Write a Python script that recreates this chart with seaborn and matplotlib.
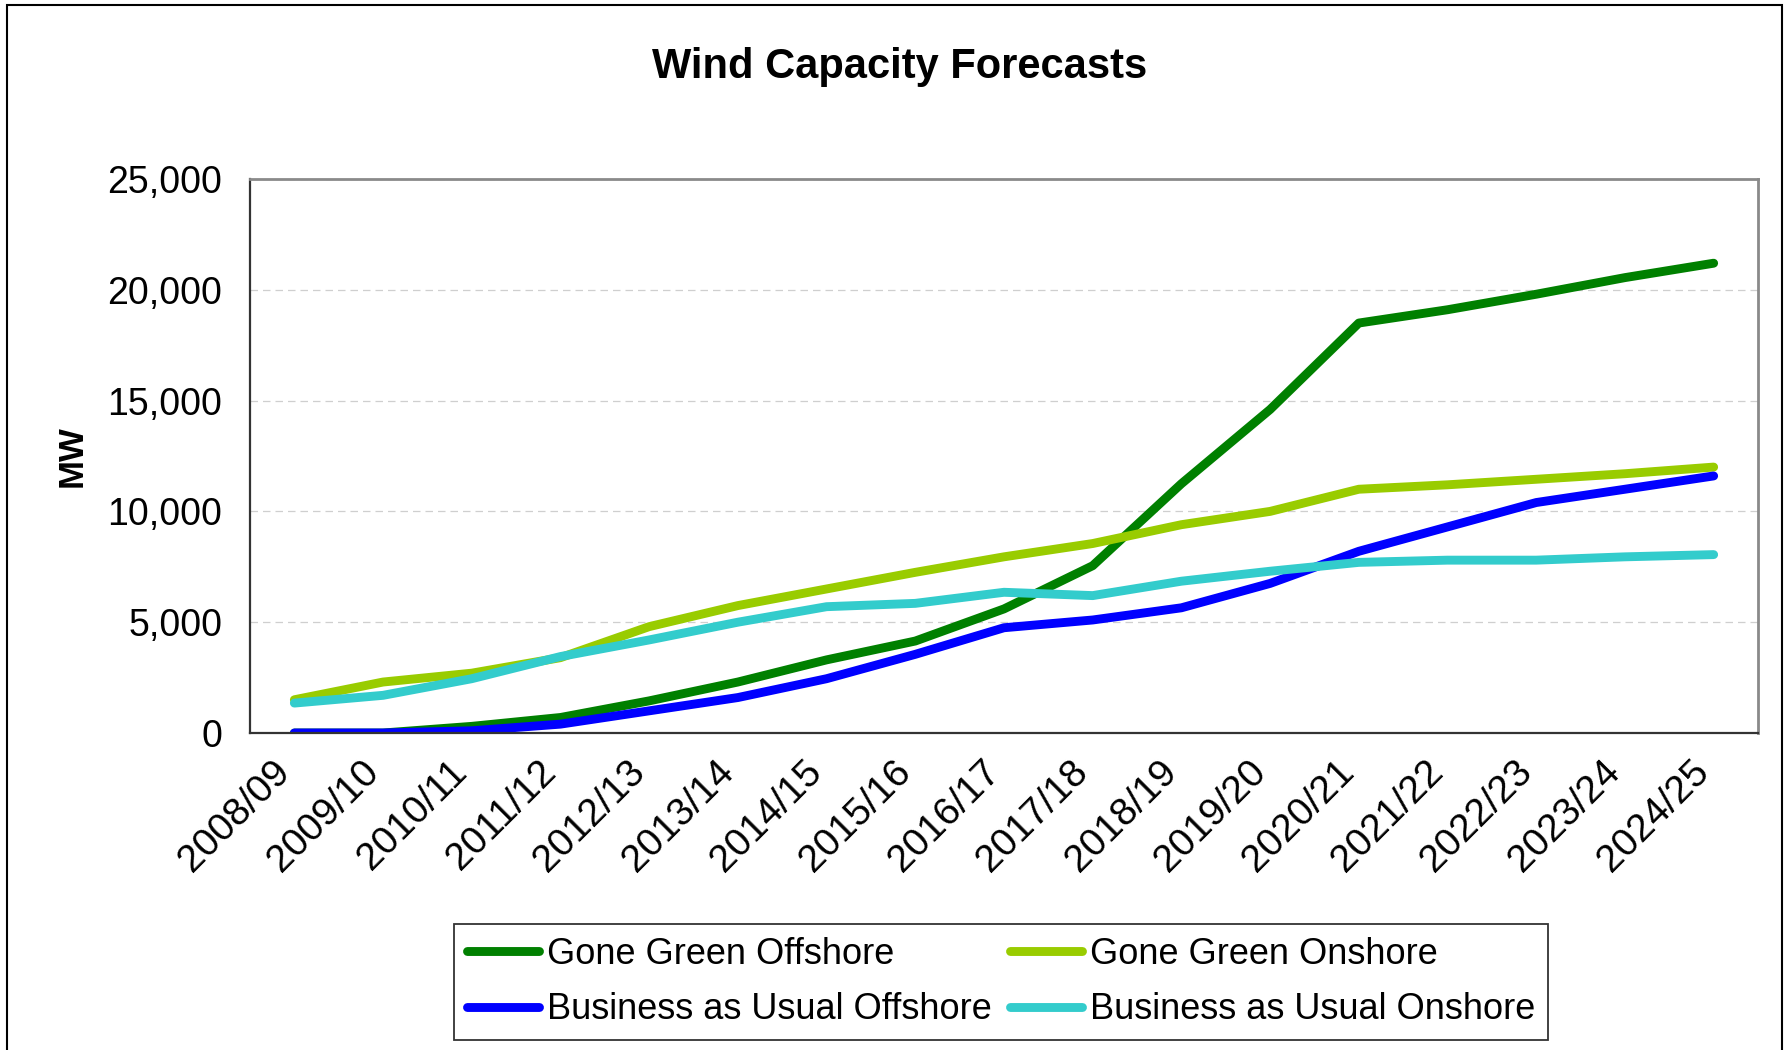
import matplotlib
matplotlib.use("Agg")
import matplotlib.pyplot as plt
import matplotlib.transforms as mtransforms
from matplotlib.patches import Rectangle
from matplotlib.ticker import FuncFormatter, FixedLocator
import seaborn as sns
import pandas as pd

# Financial years on the category axis
years = ["2008/09", "2009/10", "2010/11", "2011/12", "2012/13", "2013/14",
         "2014/15", "2015/16", "2016/17", "2017/18", "2018/19", "2019/20",
         "2020/21", "2021/22", "2022/23", "2023/24", "2024/25"]

# Installed capacity (MW) per scenario
gone_green_offshore = [0, 0, 300, 700, 1450, 2300, 3300, 4150, 5600, 7550,
                       11250, 14600, 18500, 19100, 19800, 20550, 21200]
gone_green_onshore = [1500, 2300, 2700, 3400, 4800, 5750, 6500, 7250, 7950, 8550,
                      9400, 10000, 11000, 11200, 11450, 11700, 12000]
bau_offshore = [0, 0, 100, 400, 1000, 1600, 2450, 3550, 4750, 5100,
                5650, 6750, 8200, 9300, 10400, 11000, 11600]
bau_onshore = [1350, 1700, 2450, 3450, 4200, 5000, 5700, 5850, 6350, 6200,
               6850, 7300, 7700, 7800, 7800, 7950, 8050]

series_names = ["Gone Green Offshore", "Gone Green Onshore",
                "Business as Usual Offshore", "Business as Usual Onshore"]
series_values = [gone_green_offshore, gone_green_onshore, bau_offshore, bau_onshore]
series_colors = ["#008000", "#99CC00", "#0000FF", "#33CCCC"]

df = pd.concat(
    [pd.DataFrame({"Year": years, "MW": vals, "Series": name})
     for name, vals in zip(series_names, series_values)],
    ignore_index=True,
)

sns.set_style("white")
plt.rcParams["font.family"] = ["Liberation Sans", "DejaVu Sans"]
plt.rcParams["text.color"] = "black"
plt.rcParams["axes.labelcolor"] = "black"
plt.rcParams["xtick.color"] = "black"
plt.rcParams["ytick.color"] = "black"

W, H = 1785, 1050
fig = plt.figure(figsize=(W / 100, H / 100), dpi=100)
ax = fig.add_axes([250 / W, 1 - 733 / H, 1508 / W, 554 / H])

sns.lineplot(
    data=df, x="Year", y="MW", hue="Series", hue_order=series_names,
    palette=dict(zip(series_names, series_colors)), linewidth=6.4,
    legend=False, ax=ax, solid_capstyle="round",
)

n = len(years)
ax.set_xlim(-0.5, n - 0.5)
ax.set_ylim(0, 25000)
ax.set_yticks(range(0, 25001, 5000))
ax.yaxis.set_major_formatter(FuncFormatter(lambda v, p: f"{int(v):,}"))

ax.set_xticks(range(n))
ax.set_xticklabels(years, rotation=45, ha="right", va="center",
                   rotation_mode="anchor")
ax.xaxis.set_minor_locator(FixedLocator([i - 0.5 for i in range(n + 1)]))
ax.tick_params(axis="x", which="major", length=0, pad=24, labelsize=28)
ax.tick_params(axis="x", which="minor", length=7.5, width=1.3,
               color="#333333", direction="out")
ax.tick_params(axis="y", length=8, width=1.3, color="#333333",
               direction="out", pad=12, labelsize=27)

shift = mtransforms.ScaledTranslation(-10 / 100, 0, fig.dpi_scale_trans)
for lbl in ax.get_xticklabels():
    lbl.set_transform(lbl.get_transform() + shift)

ax.set_xlabel("")
ax.set_ylabel("MW", fontsize=25, fontweight="bold")
ax.yaxis.set_label_coords(-0.107, 0.5)

ax.yaxis.grid(True, linestyle=(0, (6, 4)), color="#CFCFCF", linewidth=0.9)
ax.xaxis.grid(False)
ax.set_axisbelow(True)

for side in ("left", "bottom"):
    ax.spines[side].set_color("#333333")
    ax.spines[side].set_linewidth(1.6)
for side in ("top", "right"):
    ax.spines[side].set_color("#8A8A8A")
    ax.spines[side].set_linewidth(2.0)

fig.text(900 / W, 1 - 67 / H, "Wind Capacity Forecasts", ha="center",
         va="center", fontsize=30, fontweight="bold")

lines = ax.lines[:4]
order = [0, 2, 1, 3]
leg = fig.legend(
    [lines[i] for i in order], [series_names[i] for i in order],
    ncol=2, loc="center", bbox_to_anchor=(1001 / W, 1 - 982 / H),
    frameon=True, fancybox=False, edgecolor="black", fontsize=26,
    handlelength=2.0, handletextpad=0.22, columnspacing=0.5,
    labelspacing=0.58, borderpad=0.35, borderaxespad=0,
)
leg.get_frame().set_linewidth(1.3)

fig.add_artist(Rectangle((7 / W, -0.05), (1782 - 7) / W, 1.05 - 5 / H,
                         transform=fig.transFigure, fill=False,
                         edgecolor="black", linewidth=1.5))

fig.savefig("out.png", dpi=100)
